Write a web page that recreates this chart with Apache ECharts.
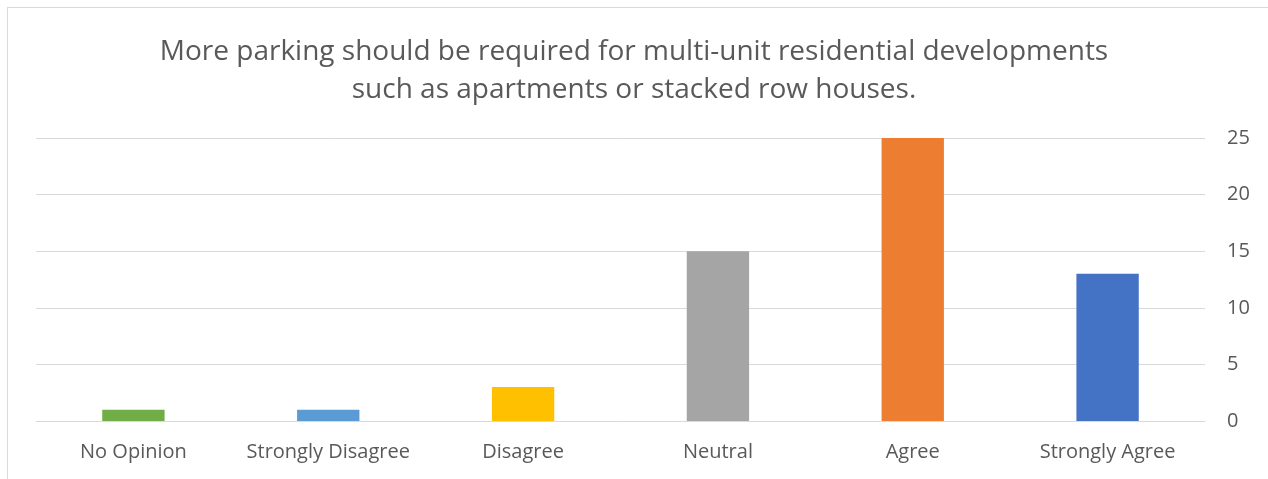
<!DOCTYPE html>
<html>
<head>
<meta charset="utf-8">
<script src="https://cdn.jsdelivr.net/npm/echarts@6/dist/echarts.min.js"></script>
<style>
html, body { margin: 0; padding: 0; background: #fff; overflow: hidden; }
#frame { position: absolute; left: 7px; top: 7px; width: 1300px; height: 500px; border-left: 1px solid #d9d9d9; border-top: 1px solid #d9d9d9; }
#main { position: absolute; left: 0; top: 0; width: 1268px; height: 479px; }
</style>
</head>
<body>
<div id="frame"></div>
<div id="main"></div>
<script>
var categories = ['No Opinion', 'Strongly Disagree', 'Disagree', 'Neutral', 'Agree', 'Strongly Agree'];
var counts = [1, 1, 3, 15, 25, 13];
var barColors = ['#70AD47', '#5B9BD5', '#FFC000', '#A5A5A5', '#ED7D31', '#4472C4'];
var yTicks = [0, 5, 10, 15, 20, 25];

var myChart = echarts.init(document.getElementById('main'));

var option = {
	animation: false,
	title: {
		text: 'More parking should be required for multi-unit residential developments\nsuch as apartments or stacked row houses.',
		left: 'center',
		top: 28,
		textStyle: {
			fontFamily: 'Open Sans',
			fontSize: 28,
			fontWeight: 'normal',
			color: '#595959',
			lineHeight: 38
		}
	},
	grid: {
		left: 36,
		right: 63,
		top: 138,
		bottom: 58,
		containLabel: false
	},
	xAxis: {
		type: 'category',
		data: categories,
		axisLine: { lineStyle: { color: '#d9d9d9', width: 1 } },
		axisTick: { show: false },
		axisLabel: {
			interval: 0,
			fontFamily: 'Open Sans',
			fontSize: 20,
			color: '#595959',
			margin: 21
		}
	},
	yAxis: {
		type: 'value',
		position: 'right',
		min: yTicks[0],
		max: yTicks[yTicks.length - 1],
		interval: 5,
		axisLine: { show: false },
		axisTick: { show: false },
		splitLine: { lineStyle: { color: '#d9d9d9', width: 1 } },
		axisLabel: {
			fontFamily: 'Open Sans',
			fontSize: 20,
			color: '#595959',
			margin: 22
		}
	},
	series: [{
		type: 'bar',
		barWidth: '32%',
		data: counts.map(function (v, i) {
			return { value: v, itemStyle: { color: barColors[i] } };
		})
	}]
};

myChart.setOption(option);
</script>
</body>
</html>
